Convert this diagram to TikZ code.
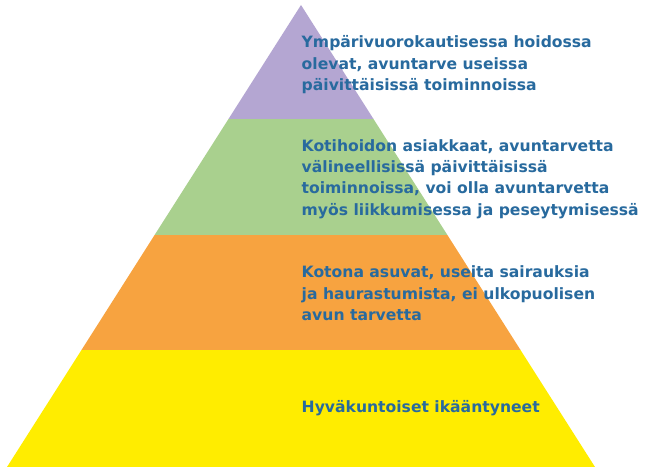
\documentclass[tikz,border=0pt]{standalone}
\usepackage{fontspec}
\setmainfont{DejaVu Sans}
\definecolor{lvpurple}{RGB}{180,166,210}
\definecolor{lvgreen}{RGB}{169,208,142}
\definecolor{lvorange}{RGB}{247,163,64}
\definecolor{lvyellow}{RGB}{255,237,0}
\definecolor{txtblue}{RGB}{40,106,158}
\begin{document}
\begin{tikzpicture}[x=1pt,y=-1pt,
  lvtext/.style={anchor=base west,inner sep=0pt,align=left,text=txtblue,
    font=\bfseries\fontsize{15.6}{21.3}\selectfont}]
\useasboundingbox (0,0) rectangle (646,470);
\fill[lvyellow] (81.5,350) -- (520.5,350) -- (595,467) -- (7,467) -- cycle;
\fill[lvorange] (154.6,235) -- (447.4,235) -- (520.5,350) -- (81.5,350) -- cycle;
\fill[lvgreen] (228.5,119) -- (373.5,119) -- (447.4,235) -- (154.6,235) -- cycle;
\fill[lvpurple] (301,5) -- (373.5,119) -- (228.5,119) -- cycle;
\node[lvtext] (t1) at (301.5,90.5) {Ympärivuorokautisessa hoidossa\\olevat, avuntarve useissa\\päivittäisissä toiminnoissa};
\node[lvtext] (t2) at (301.5,215.3) {Kotihoidon asiakkaat, avuntarvetta\\välineellisissä päivittäisissä\\toiminnoissa, voi olla avuntarvetta\\myös liikkumisessa ja peseytymisessä};
\node[lvtext] (t3) at (301.5,320.5) {Kotona asuvat, useita sairauksia\\ja haurastumista, ei ulkopuolisen\\avun tarvetta};
\node[lvtext] (t4) at (301.5,413) {Hyväkuntoiset ikääntyneet};
\end{tikzpicture}
\end{document}
